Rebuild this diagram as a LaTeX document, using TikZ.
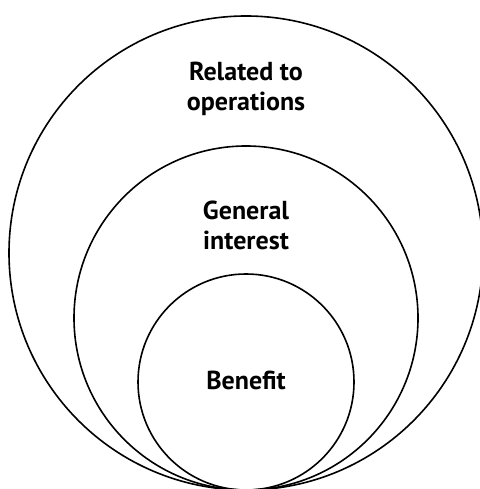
\documentclass[tikz,border=0pt]{standalone}
\usepackage{fontspec}
\setmainfont{PT Sans}
\tikzset{
	ring/.style={line width=1.6pt},
	ringlabel/.style={font=\bfseries\fontsize{26}{30}\selectfont, align=center}
}
\begin{document}
\begin{tikzpicture}[x=1pt,y=1pt]
	\useasboundingbox (0,0) rectangle (479,489);
	
	\draw [ring] (246,236) circle (237);% outer
	\draw [ring] (246,171) circle (172);% middle
	\draw [ring] (246,107) circle (108);% inner
	
	\node [ringlabel] (Operations) at (246,400) {Related to\\operations};
	\node [ringlabel] (Interest)   at (246,264) {General\\interest};
	\node [ringlabel] (Benefit)    at (246,109) {Benefit};
	
\end{tikzpicture}
\end{document}
